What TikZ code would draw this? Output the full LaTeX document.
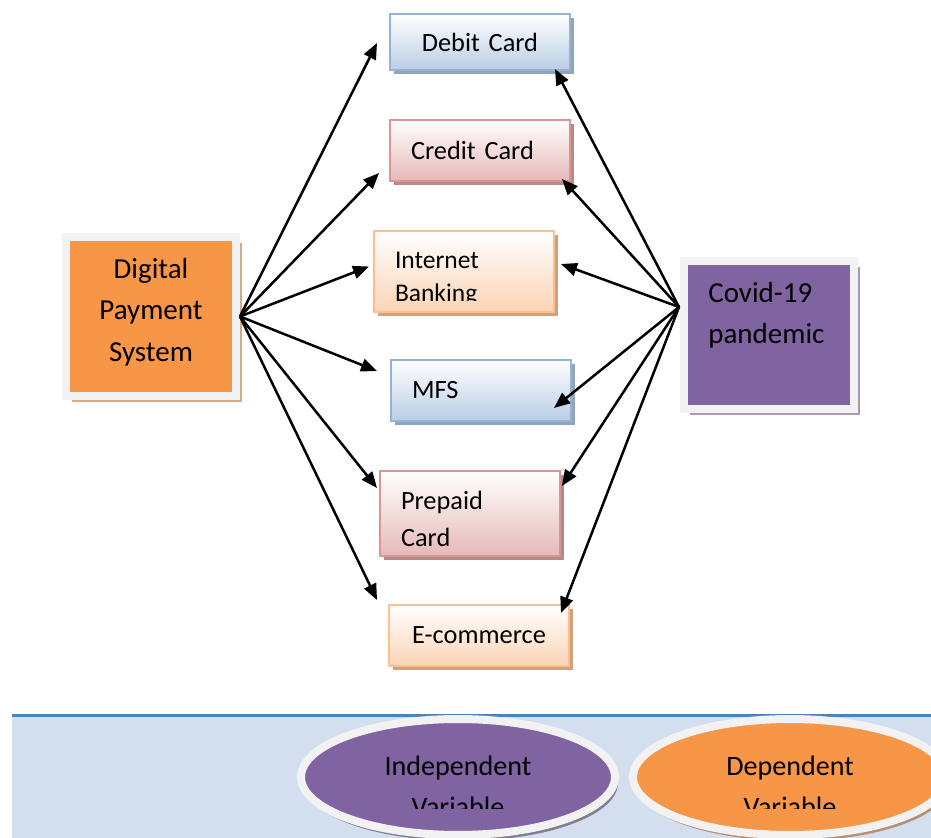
\documentclass[tikz,border=0pt]{standalone}
\usepackage{fontspec}
\setmainfont{Carlito}
\usepackage{xcolor}
\usepackage{tikz}
\usetikzlibrary{shapes.geometric, arrows.meta, positioning, shadows, calc}
\definecolor{cardblue}{HTML}{95B3D7}
\definecolor{cardbluefill}{HTML}{B9CDE5}
\definecolor{cardblueshade}{HTML}{93A3BA}
\definecolor{cardred}{HTML}{D99694}
\definecolor{cardredfill}{HTML}{E6B9B8}
\definecolor{cardredshade}{HTML}{B48B8A}
\definecolor{cardorange}{HTML}{FAC090}
\definecolor{cardorangefill}{HTML}{FBD4B4}
\definecolor{cardorangeshade}{HTML}{D2A07D}
\definecolor{payorange}{HTML}{F79646}
\definecolor{payshade}{HTML}{D5A98A}
\definecolor{covidpurple}{HTML}{8064A2}
\definecolor{covidshade}{HTML}{A59BB3}
\definecolor{framegray}{HTML}{F2F2F2}
\definecolor{legendblue}{HTML}{4F81BD}
\definecolor{legendfill}{HTML}{D3DFEE}

\begin{document}
\begin{tikzpicture}[
    x=0.02cm, y=-0.02cm,
    card/.style={rectangle, line width=0.04cm, minimum width=3.6cm,
                 text width=2.76cm, inner xsep=0.42cm, align=left,
                 font=\fontsize{15}{21}\selectfont},
    bluecard/.style={card, draw=cardblue, top color=white, bottom color=cardbluefill,
                 drop shadow={shadow xshift=0.08cm, shadow yshift=-0.08cm,
                              fill=cardblueshade, opacity=1}},
    redcard/.style={card, draw=cardred, top color=white, bottom color=cardredfill,
                 drop shadow={shadow xshift=0.08cm, shadow yshift=-0.08cm,
                              fill=cardredshade, opacity=1}},
    orangecard/.style={card, draw=cardorange, top color=white, bottom color=cardorangefill,
                 drop shadow={shadow xshift=0.08cm, shadow yshift=-0.08cm,
                              fill=cardorangeshade, opacity=1}},
    bigbox/.style={rectangle, line width=0.16cm, draw=framegray, minimum width=3.4cm,
                 font=\fontsize{16.5}{23.5}\selectfont},
    varoval/.style={ellipse, line width=0.16cm, draw=framegray,
                 minimum width=6.28cm, minimum height=2.32cm},
    ovaltext/.style={align=center, font=\fontsize{16}{23.5}\selectfont},
    arrow/.style={-{Triangle[length=0.32cm, width=0.26cm]}, line width=0.05cm}
]
\clip (0,0) rectangle (931,838);

% Payment channels
\node[bluecard, minimum height=1.12cm, align=center] at (480,42) (debit) {Debit Card};
\node[redcard, minimum height=1.22cm] at (480,150.5) (credit) {Credit Card};
\node[orangecard, minimum height=1.62cm] at (464,271.5) (inet) {};
\node[bluecard, minimum height=1.22cm] at (481,390.5) (mfs) {MFS};
\node[redcard, minimum height=1.7cm, font=\fontsize{15}{21.5}\selectfont] at (470,513.5) (prepaid) {};
\node[orangecard, minimum height=1.22cm, align=center] at (479,635.5) (ecom) {E-commerce};

\node[card, font=\fontsize{15}{21.5}\selectfont] at (470,519) (prepaidtxt) {Prepaid\\Card};
\begin{scope}
  \clip ($(inet.north west)+(0,4)$) rectangle ($(inet.south east)+(0,-12)$);
  \node[card, font=\fontsize{14.5}{18.7}\selectfont] at (464,279) (inettxt) {Internet\\Banking};
\end{scope}

% Main factors
\node[bigbox, fill=payorange, minimum height=3.18cm, align=center,
      drop shadow={shadow xshift=0.12cm, shadow yshift=-0.12cm, fill=payshade, opacity=1}]
      at (151,316.5) (dps) {};
\node[align=center, font=\fontsize{16.5}{23.5}\selectfont] at (151,312) (dpstxt) {Digital\\Payment\\System};
\node[bigbox, fill=covidpurple, minimum height=2.96cm,
      drop shadow={shadow xshift=0.12cm, shadow yshift=-0.12cm, fill=covidshade, opacity=1}]
      at (769,335) (covid) {};
\node[anchor=north west, align=left, inner sep=0pt, font=\fontsize{16.5}{23.5}\selectfont]
      at ($(covid.north west)+(28,25)$) (covidtxt) {Covid-19\\pandemic};
\coordinate (chub) at ($(covid.west)+(-1,-28)$);

% Arrows
\draw[arrow] (dps.east) -- ($(debit.west)+(-12,1)$);
\draw[arrow] (dps.east) -- ($(credit.south west)+(-10,-9)$);
\draw[arrow] (dps.east) -- ($(inet.west)+(-4,-5)$);
\draw[arrow] (dps.east) -- ($(mfs.north west)+(-13,12)$);
\draw[arrow] (dps.east) -- ($(prepaid.north west)+(-2,18)$);
\draw[arrow] (dps.east) -- ($(ecom.north west)+(-11,-4)$);

\draw[arrow] (chub) -- ($(debit.south east)+(-16,-2)$);
\draw[arrow] (chub) -- ($(credit.south east)+(-9,-3)$);
\draw[arrow] (chub) -- ($(inet.east)+(6,-7.5)$);
\draw[arrow] (chub) -- ($(mfs.south east)+(-18,-14)$);
\draw[arrow] (chub) -- ($(prepaid.north east)+(1,16)$);
\draw[arrow] (chub) -- ($(ecom.north east)+(-9,9)$);

% Legend
\fill[legendfill] (12,715) rectangle (931,838);
\draw[legendblue, line width=0.06cm] (12,715) -- (931,715);
\node[varoval, fill=covidpurple,
      drop shadow={shadow xshift=0.06cm, shadow yshift=-0.12cm, fill=covidshade!80!black, opacity=1}]
      at (458,777) (indep) {};
\node[varoval, fill=payorange,
      drop shadow={shadow xshift=0.06cm, shadow yshift=-0.12cm, fill=payshade!85!black, opacity=1}]
      at (790,777) (dep) {};
\begin{scope}
  \clip (290,730) rectangle (931,808);
  \node[ovaltext] at ($(indep)+(0,9)$) (indeptxt) {Independent\\Variable};
  \node[ovaltext] at ($(dep)+(0,9)$) (deptxt) {Dependent\\Variable};
\end{scope}

\end{tikzpicture}
\end{document}
